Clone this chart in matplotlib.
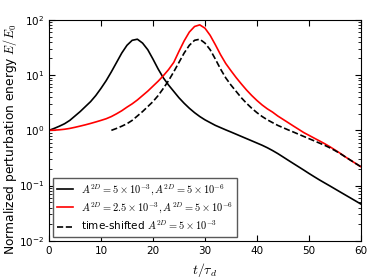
import matplotlib
matplotlib.use("Agg")
import matplotlib.pyplot as plt
import numpy as np

plt.rcParams['mathtext.fontset'] = 'cm'
plt.rcParams['font.family'] = 'DejaVu Sans'

# время (в единицах tau_d), шаг 1
t = list(range(0, 61))

# черная кривая: A=5e-3
e_black = [1.00, 1.084, 1.189, 1.318, 1.514, 1.820, 2.188, 2.692, 3.311, 4.266,
           5.754, 7.943, 11.48, 16.98, 25.12, 34.67, 42.66, 44.67, 38.02, 28.84,
           19.50, 12.88, 8.91, 6.61, 5.07, 3.89, 3.09, 2.51, 2.09, 1.78,
           1.55, 1.38, 1.23, 1.12, 1.02, 0.933, 0.851, 0.776, 0.708, 0.646,
           0.589, 0.537, 0.484, 0.431, 0.380, 0.331, 0.288, 0.251, 0.219, 0.191,
           0.166, 0.145, 0.127, 0.112, 0.0989, 0.0871, 0.0767, 0.0676, 0.0596, 0.0525,
           0.0462]

# красная кривая: A=2.5e-3
e_red = [1.0, 1.007, 1.023, 1.047, 1.084, 1.135, 1.194, 1.259, 1.334, 1.419,
         1.514, 1.622, 1.778, 1.995, 2.265, 2.630, 3.020, 3.548, 4.266, 5.129,
         6.310, 7.762, 9.772, 12.59, 16.98, 26.92, 41.69, 60.26, 75.86, 81.28,
         70.79, 52.48, 35.48, 23.44, 16.22, 12.02, 9.02, 6.92, 5.37, 4.27,
         3.47, 2.88, 2.45, 2.14, 1.82, 1.585, 1.38, 1.20, 1.047, 0.912,
         0.813, 0.724, 0.646, 0.575, 0.507, 0.442, 0.385, 0.331, 0.288, 0.251,
         0.219]

# сдвиг по времени для пунктирной кривой
time_shift = 12

labels = [r'$A^{2D}=5\times10^{-3}, A^{2D}=5\times10^{-6}$',
          r'$A^{2D}=2.5\times10^{-3}, A^{2D}=5\times10^{-6}$',
          r'time-shifted $A^{2D}=5\times10^{-3}$']

fig = plt.figure(figsize=(3.74, 2.80), dpi=100)
ax = fig.add_axes([0.131, 0.14, 0.834, 0.789])

ax.plot(t, e_black, color='k', lw=1.2, label=labels[0])
ax.plot(t, e_red, color='r', lw=1.2, label=labels[1])
ax.plot(np.array(t) + time_shift, e_black, color='k', lw=1.2, ls='--',
        label=labels[2])

ax.set_yscale('log')
ax.set_xlim(0, 60)
ax.set_ylim(1e-2, 1e2)
ax.set_xticks([0, 10, 20, 30, 40, 50, 60])
ax.tick_params(which='both', direction='in', top=True, right=True, labelsize=7.5)
ax.tick_params(which='major', length=4)
ax.tick_params(which='minor', length=2)

ax.set_xlabel(r'$t/\tau_d$', fontsize=10)
ax.set_ylabel(r'Normalized perturbation energy $E/E_0$', fontsize=8.8)
ax.yaxis.set_label_coords(-0.095, 0.46)

leg = ax.legend(loc='lower left', fontsize=7.5, fancybox=False, framealpha=1,
                handlelength=1.5, borderaxespad=0.4, labelspacing=0.35)
leg.get_frame().set_edgecolor('0.35')

fig.savefig('out.png', dpi=100)
